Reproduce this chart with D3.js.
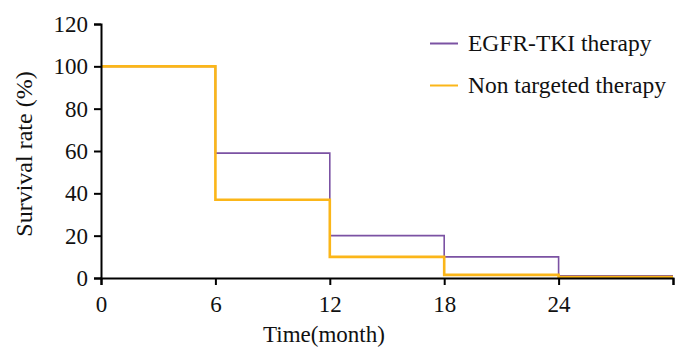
<!DOCTYPE html>
<html><head><meta charset="utf-8">
<script src="https://cdn.jsdelivr.net/npm/d3@7/dist/d3.min.js"></script>
<style>body{margin:0;background:#fff}</style>
</head><body><svg id="c" width="700" height="360"></svg>
<script>
const seriesNames = ["EGFR-TKI therapy", "Non targeted therapy"];
const times = [0, 6, 12, 18, 24, 30];
const egfr = [100, 59, 20, 10, 1, 1];
const nonTargeted = [100, 37, 10, 1.5, 0.5, 0.5];
const xTicks = [0, 6, 12, 18, 24, 30];
const xTickLabels = ["0", "6", "12", "18", "24", ""];
const yTicks = [0, 20, 40, 60, 80, 100, 120];
const FONT = "'Liberation Serif', 'Times New Roman', serif";

const svg = d3.select("#c");
const x = d3.scaleLinear().domain([0, 30]).range([101, 673]);
const y = d3.scaleLinear().domain([0, 120]).range([278, 24]);

const line = d3.line().x(d => x(d[0])).y(d => y(d[1])).curve(d3.curveStepAfter);
const toPts = vals => times.map((t, i) => [t, vals[i]]);

svg.append("path").datum(toPts(egfr)).attr("d", line)
  .attr("fill", "none").attr("stroke", "#7b52a3").attr("stroke-width", 1.6);
svg.append("path").datum(toPts(nonTargeted)).attr("d", line)
  .attr("fill", "none").attr("stroke", "#fbb619").attr("stroke-width", 2.6);

const xa = svg.append("g").attr("transform", "translate(0,278)")
  .call(d3.axisBottom(x).tickValues(xTicks).tickFormat((d, i) => xTickLabels[i]).tickSizeOuter(0).tickSize(7));
const ya = svg.append("g").attr("transform", "translate(101,0)")
  .call(d3.axisLeft(y).tickValues(yTicks).tickSizeOuter(0).tickSize(7));
[xa, ya].forEach(a => {
  a.attr("font-family", FONT).attr("font-size", 23);
  a.select(".domain").attr("stroke", "#000").attr("stroke-width", 2);
  a.selectAll(".tick line").attr("stroke", "#000").attr("stroke-width", 2);
  a.selectAll(".tick text").attr("fill", "#111").style("font-family", FONT).style("font-size", "23px");
});
xa.selectAll(".tick text").attr("dy", null).attr("y", 34);
ya.selectAll(".tick text").attr("x", -13);

svg.append("text").attr("x", 324).attr("y", 342).attr("text-anchor", "middle")
  .style("font-family", FONT).style("font-size", "23px").attr("fill", "#111").text("Time(month)");
svg.append("text").attr("transform", "translate(32,154) rotate(-90)").attr("text-anchor", "middle")
  .style("font-family", FONT).style("font-size", "24px").attr("fill", "#111").text("Survival rate (%)");

const colors = ["#7b52a3", "#fbb619"];
seriesNames.forEach((n, i) => {
  const yy = 43.5 + i * 42;
  svg.append("line").attr("x1", 430).attr("x2", 458).attr("y1", yy).attr("y2", yy)
    .attr("stroke", colors[i]).attr("stroke-width", 2);
  svg.append("text").attr("x", 468).attr("y", yy + 7).style("font-family", FONT)
    .style("font-size", "23.5px").attr("fill", "#111").text(n);
});
</script></body></html>
